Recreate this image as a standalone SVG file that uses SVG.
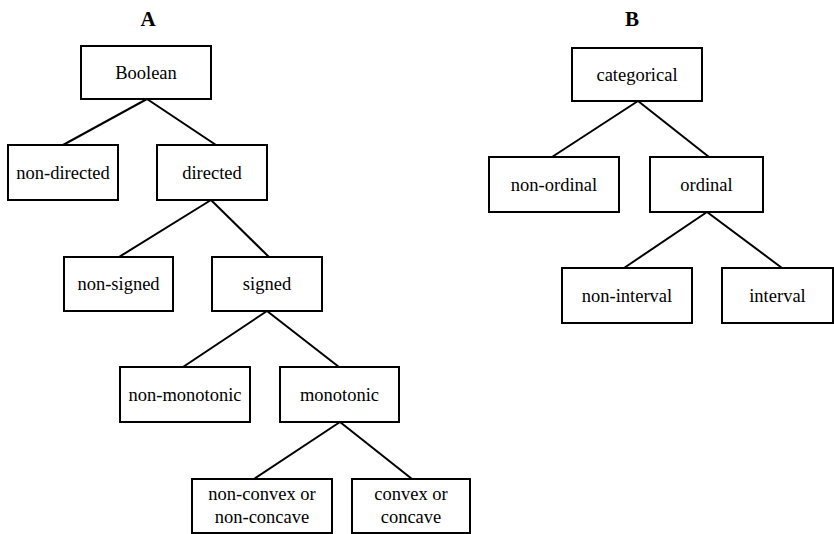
<svg xmlns="http://www.w3.org/2000/svg" width="834" height="534" viewBox="0 0 834 534">
<style>
rect{fill:#fff;stroke:#000;stroke-width:2}
text{font-family:'Liberation Serif',serif;font-size:18.5px;text-anchor:middle;fill:#000}
.t{font-weight:bold;font-size:21px}
#edges line{stroke:#000;stroke-width:2}
</style>
<rect x="0" y="0" width="834" height="534" style="stroke:none"/>
<g font-family="Liberation Serif, serif">
<text class="t" x="148" y="26">A</text>
<text class="t" x="632" y="26">B</text>
</g>
<g id="edges">
<line x1="147" y1="99" x2="63" y2="145"/>
<line x1="147" y1="99" x2="216" y2="145"/>
<line x1="211" y1="200" x2="119" y2="257"/>
<line x1="211" y1="200" x2="269" y2="257"/>
<line x1="267" y1="311" x2="183" y2="367"/>
<line x1="267" y1="311" x2="339" y2="367"/>
<line x1="340" y1="422" x2="254" y2="479"/>
<line x1="340" y1="422" x2="412" y2="479"/>
<line x1="638" y1="101" x2="552" y2="157"/>
<line x1="638" y1="101" x2="709" y2="157"/>
<line x1="707" y1="212" x2="624" y2="268"/>
<line x1="707" y1="212" x2="782" y2="268"/>
</g>
<g id="boolean"><rect x="81" y="46" width="130" height="53"/><text x="146" y="79">Boolean</text></g>
<g id="non-directed"><rect x="8" y="145" width="110" height="55"/><text x="63" y="179">non-directed</text></g>
<g id="directed"><rect x="157" y="145" width="110" height="55"/><text x="212" y="179">directed</text></g>
<g id="non-signed"><rect x="64" y="257" width="109" height="54"/><text x="118.5" y="290">non-signed</text></g>
<g id="signed"><rect x="212" y="257" width="110" height="54"/><text x="267" y="290">signed</text></g>
<g id="non-monotonic"><rect x="120" y="367" width="130" height="55"/><text x="185" y="401">non-monotonic</text></g>
<g id="monotonic"><rect x="280" y="367" width="119" height="55"/><text x="339.5" y="401">monotonic</text></g>
<g id="non-convex"><rect x="192" y="479" width="140" height="54"/><text x="262" y="500">non-convex or</text><text x="262" y="523">non-concave</text></g>
<g id="convex"><rect x="352" y="479" width="118" height="54"/><text x="411" y="500">convex or</text><text x="411" y="523">concave</text></g>
<g id="categorical"><rect x="572" y="48" width="130" height="53"/><text x="637" y="81">categorical</text></g>
<g id="non-ordinal"><rect x="489" y="157" width="130" height="55"/><text x="554" y="191">non-ordinal</text></g>
<g id="ordinal"><rect x="650" y="157" width="113" height="55"/><text x="706.5" y="191">ordinal</text></g>
<g id="non-interval"><rect x="562" y="268" width="130" height="55"/><text x="627" y="302">non-interval</text></g>
<g id="interval"><rect x="722" y="268" width="111" height="55"/><text x="777.5" y="302">interval</text></g>
</svg>
